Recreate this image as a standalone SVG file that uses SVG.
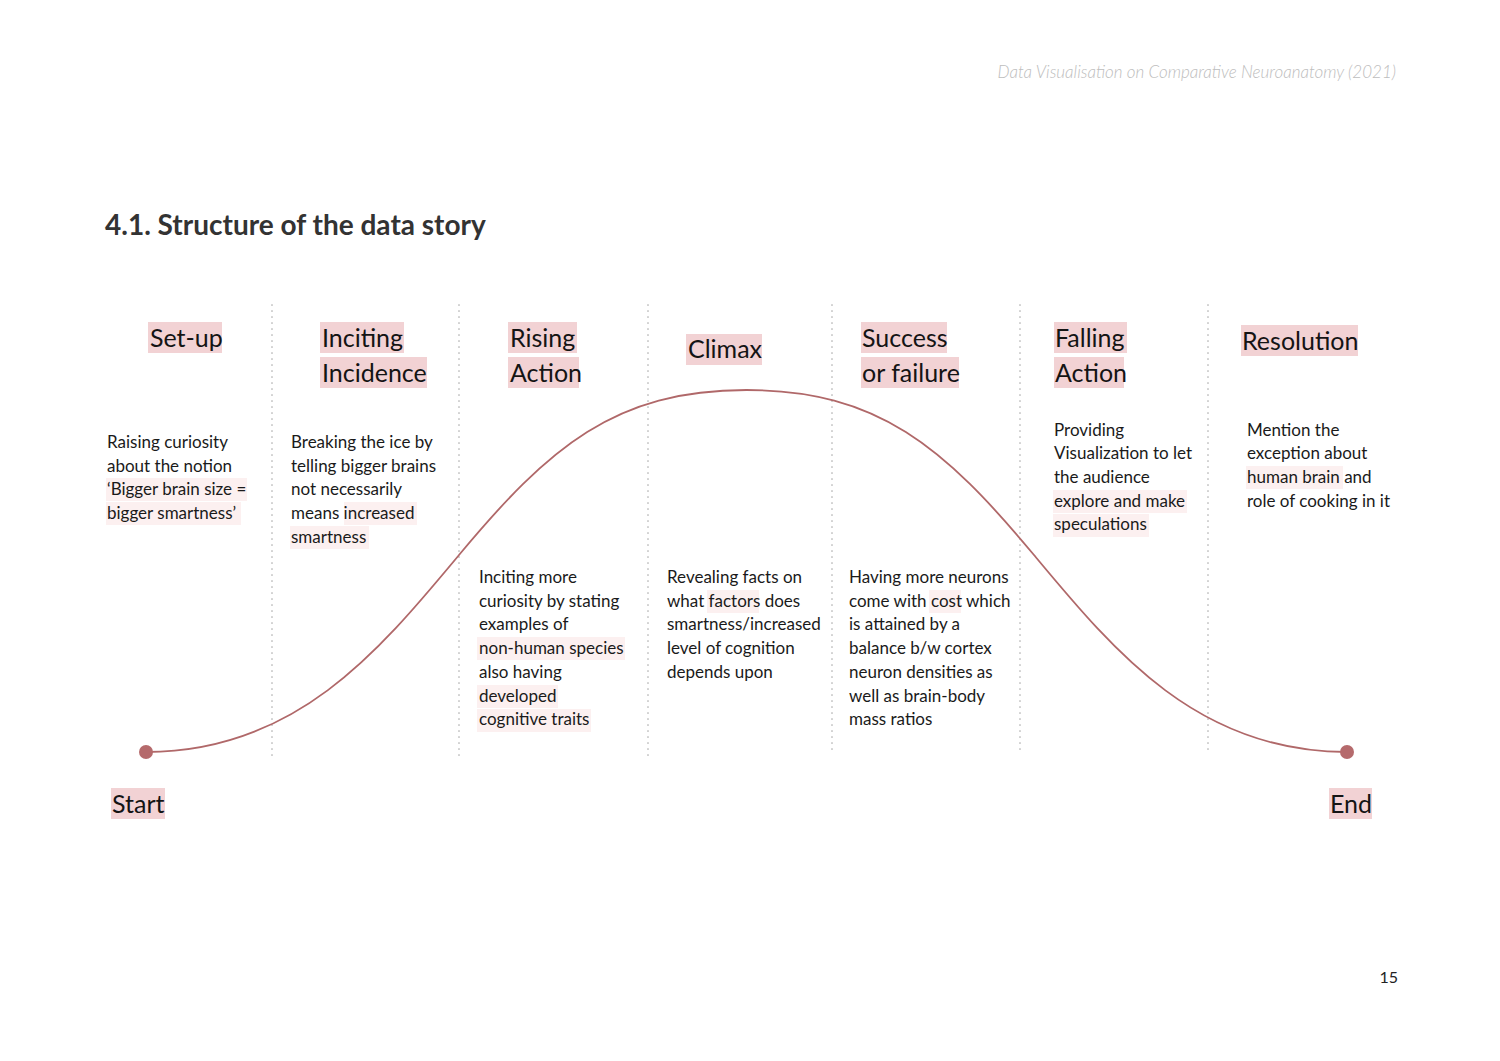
<svg xmlns="http://www.w3.org/2000/svg" width="1500" height="1061" viewBox="0 0 1500 1061">
<style>
.bg{fill:#ffffff}
.hd{font-family:Lato,"Open Sans","Noto Sans",sans-serif;font-size:25px;fill:#141414}
.bd{font-family:Lato,"Open Sans","Noto Sans",sans-serif;font-size:17px;fill:#1a1a1a}
.hl{fill:#f2d2d4}
.lt{fill:#fcf0f0}
.div{stroke:#a8a8a8;stroke-width:1.6;stroke-dasharray:0.1 5.9;stroke-linecap:round;fill:none}
.curve{stroke:#b06869;stroke-width:1.8;fill:none}
.dot{fill:#b56a6c}
</style>
<rect class="bg" x="0" y="0" width="1500" height="1061"/>
<text x="1396" y="78" text-anchor="end" font-family="Lato,'Open Sans',sans-serif" font-style="italic" font-weight="300" font-size="17" fill="#bdbdbd">Data Visualisation on Comparative Neuroanatomy (2021)</text>
<text x="105" y="235" font-family="Lato,'Open Sans',sans-serif" font-weight="700" font-size="28" fill="#333333">4.1. Structure of the data story</text>
<text x="1398" y="983" text-anchor="end" font-family="Lato,'Open Sans',sans-serif" font-size="16" fill="#222222">15</text>

<g id="dividers">
<line class="div" x1="272" y1="305" x2="272" y2="757"/>
<line class="div" x1="459" y1="305" x2="459" y2="757"/>
<line class="div" x1="648" y1="305" x2="648" y2="757"/>
<line class="div" x1="832" y1="305" x2="832" y2="750"/>
<line class="div" x1="1020" y1="305" x2="1020" y2="750"/>
<line class="div" x1="1208" y1="305" x2="1208" y2="750"/>
</g>

<g id="connectors">
<path class="curve" d="M146,752 C296,752 379,651 459,555 C549,447 615,390 746.5,390 C878,390 944,447 1034,555 C1114,651 1197,752 1347,752"/>
</g>

<g id="start">
<circle class="dot" cx="146" cy="752" r="7"/>
<rect class="hl" x="111" y="788" width="54" height="31"/>
<text class="hd" x="112" y="813">Start</text>
</g>

<g id="end">
<circle class="dot" cx="1347" cy="752" r="7"/>
<rect class="hl" x="1329" y="788" width="43" height="31"/>
<text class="hd" x="1330" y="813">End</text>
</g>

<g id="setup">
<rect class="hl" x="148" y="322" width="74" height="31"/>
<text class="hd" x="150" y="347">Set-up</text>
<rect class="lt" x="106" y="478" width="141" height="23"/>
<rect class="lt" x="106" y="502" width="135" height="23"/>
<text class="bd" x="107" y="448">Raising curiosity</text>
<text class="bd" x="107" y="471.7">about the notion</text>
<text class="bd" x="107" y="495.4">‘Bigger brain size =</text>
<text class="bd" x="107" y="519.1">bigger smartness’</text>
</g>

<g id="inciting">
<rect class="hl" x="320" y="322" width="84" height="31"/>
<rect class="hl" x="320" y="357" width="107" height="31"/>
<text class="hd" x="322" y="347">Inciting</text>
<text class="hd" x="322" y="382">Incidence</text>
<rect class="lt" x="344" y="502" width="73" height="23"/>
<rect class="lt" x="290" y="526" width="79" height="23"/>
<text class="bd" x="291" y="448">Breaking the ice by</text>
<text class="bd" x="291" y="471.7">telling bigger brains</text>
<text class="bd" x="291" y="495.4">not necessarily</text>
<text class="bd" x="291" y="519.1">means increased</text>
<text class="bd" x="291" y="542.8">smartness</text>
</g>

<g id="rising">
<rect class="hl" x="508" y="322" width="69" height="31"/>
<rect class="hl" x="508" y="357" width="71" height="31"/>
<text class="hd" x="510" y="347">Rising</text>
<text class="hd" x="510" y="382">Action</text>
<rect class="lt" x="477" y="637" width="148" height="23"/>
<rect class="lt" x="477" y="685" width="81" height="23"/>
<rect class="lt" x="477" y="709" width="114" height="23"/>
<text class="bd" x="479" y="583">Inciting more</text>
<text class="bd" x="479" y="606.7">curiosity by stating</text>
<text class="bd" x="479" y="630.4">examples of</text>
<text class="bd" x="479" y="654.1">non-human species</text>
<text class="bd" x="479" y="677.8">also having</text>
<text class="bd" x="479" y="701.5">developed</text>
<text class="bd" x="479" y="725.2">cognitive traits</text>
</g>

<g id="climax">
<rect class="hl" x="686" y="334" width="76" height="31"/>
<text class="hd" x="688" y="358">Climax</text>
<rect class="lt" x="707" y="590" width="52" height="23"/>
<text class="bd" x="667" y="583">Revealing facts on</text>
<text class="bd" x="667" y="606.7">what factors does</text>
<text class="bd" x="667" y="630.4">smartness/increased</text>
<text class="bd" x="667" y="654.1">level of cognition</text>
<text class="bd" x="667" y="677.8">depends upon</text>
</g>

<g id="success">
<rect class="hl" x="861" y="322" width="86" height="31"/>
<rect class="hl" x="861" y="357" width="98" height="31"/>
<text class="hd" x="862" y="347">Success</text>
<text class="hd" x="862" y="382">or failure</text>
<rect class="lt" x="929" y="590" width="32" height="23"/>
<text class="bd" x="849" y="583">Having more neurons</text>
<text class="bd" x="849" y="606.7">come with cost which</text>
<text class="bd" x="849" y="630.4">is attained by a</text>
<text class="bd" x="849" y="654.1">balance b/w cortex</text>
<text class="bd" x="849" y="677.8">neuron densities as</text>
<text class="bd" x="849" y="701.5">well as brain-body</text>
<text class="bd" x="849" y="725.2">mass ratios</text>
</g>

<g id="falling">
<rect class="hl" x="1054" y="322" width="73" height="31"/>
<rect class="hl" x="1054" y="357" width="70" height="31"/>
<text class="hd" x="1055" y="347">Falling</text>
<text class="hd" x="1055" y="382">Action</text>
<rect class="lt" x="1053" y="490" width="134" height="23"/>
<rect class="lt" x="1053" y="514" width="96" height="23"/>
<text class="bd" x="1054" y="435.5">Providing</text>
<text class="bd" x="1054" y="459.2">Visualization to let</text>
<text class="bd" x="1054" y="482.9">the audience</text>
<text class="bd" x="1054" y="506.6">explore and make</text>
<text class="bd" x="1054" y="530.3">speculations</text>
</g>

<g id="resolution">
<rect class="hl" x="1241" y="325" width="117" height="31"/>
<text class="hd" x="1242" y="350">Resolution</text>
<rect class="lt" x="1246" y="466" width="97" height="23"/>
<text class="bd" x="1247" y="435.5">Mention the</text>
<text class="bd" x="1247" y="459.2">exception about</text>
<text class="bd" x="1247" y="482.9">human brain and</text>
<text class="bd" x="1247" y="506.6">role of cooking in it</text>
</g>
</svg>
